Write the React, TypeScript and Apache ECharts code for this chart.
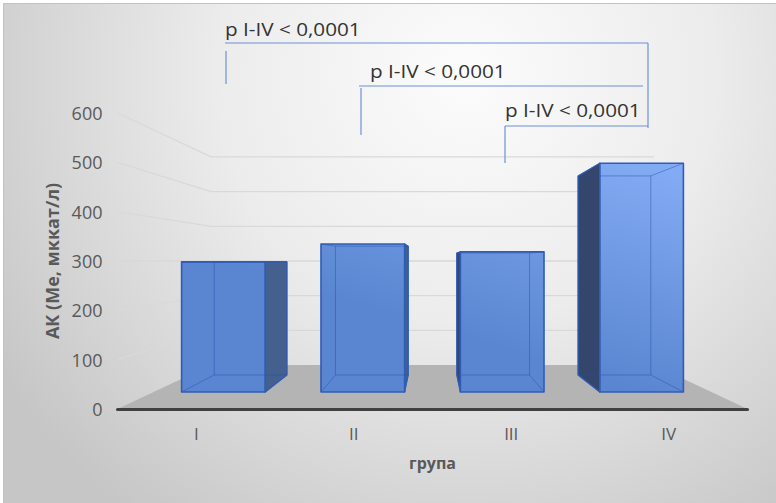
import React, { useEffect, useRef } from 'react';
import * as echarts from 'echarts';

// ---- data ----
const categories = ['I', 'II', 'III', 'IV'];
const values = [298, 339, 321, 524];
const yTicks = [0, 100, 200, 300, 400, 500, 600];
const pLabels = ['p I-IV < 0,0001', 'p I-IV < 0,0001', 'p I-IV < 0,0001'];
const yName = 'АК (Ме, мккат/л)';
const xName = 'група';

// ---- perspective / style params ----
const HORIZON = 300; // value at eye level
const K_FRONT = 0.885; // bar front face depth factor
const K_BACK = 0.77; // bar back face depth factor
const K_WALL = 0.703; // back wall depth factor
const BAR_RATIO = 0.6;
const OUTLINE = '#2f5cb6';
const INNER = 'rgba(38,78,170,0.45)';
const SIDE_L = '#34466b';
const SIDE_R = '#44608f';
const TOP_FILL = '#7ea3e6';
const FONT = '"Open Sans", "Noto Sans", sans-serif';

function persp(params: any, api: any) {
  const cs = params.coordSys;
  const vpx = cs.x + cs.width / 2;
  const vpy = api.coord([0, HORIZON])[1];
  const P = (x: number, y: number, k: number) => [vpx + (x - vpx) * k, vpy + (y - vpy) * k];
  return { cs, vpx, vpy, P };
}

const renderScene = (params: any, api: any) => {
  const { cs, P } = persp(params, api);
  const v = api.value(1);
  const y = api.coord([0, v])[1];
  const left = cs.x;
  const right = cs.x + cs.width;
  if (v === 0) {
    return {
      type: 'polygon',
      shape: { points: [[left, y], P(left, y, K_WALL), P(right, y, K_WALL), [right, y]] },
      style: { fill: '#b4b4b4' },
    };
  }
  return {
    type: 'polyline',
    shape: { points: [[left, y], P(left, y, K_WALL), P(right, y, K_WALL)] },
    style: { stroke: '#d9d9d9', lineWidth: 1.3, fill: 'none' },
  };
};

const renderBar = (params: any, api: any) => {
  const { cs, vpx, vpy, P } = persp(params, api);
  const i = api.value(0);
  const v = api.value(1);
  const t = api.coord([i, v]);
  const b = api.coord([i, 0]);
  const bw = api.size([1, 0])[0] * BAR_RATIO;
  const xl = t[0] - bw / 2;
  const xr = t[0] + bw / 2;
  const FTL = P(xl, t[1], K_FRONT), FTR = P(xr, t[1], K_FRONT);
  const FBR = P(xr, b[1], K_FRONT), FBL = P(xl, b[1], K_FRONT);
  const BTL = P(xl, t[1], K_BACK), BTR = P(xr, t[1], K_BACK);
  const BBR = P(xr, b[1], K_BACK), BBL = P(xl, b[1], K_BACK);
  const leftVis = FTL[0] > vpx;
  const rightVis = FTR[0] < vpx;
  const topVis = FTL[1] > vpy + 0.5;
  const children: any[] = [];
  const side = leftVis ? [FTL, BTL, BBL, FBL] : rightVis ? [FTR, BTR, BBR, FBR] : null;
  if (side) {
    children.push({ type: 'polygon', shape: { points: side }, style: { fill: leftVis ? SIDE_L : SIDE_R } });
  }
  if (topVis) {
    children.push({ type: 'polygon', shape: { points: [FTL, FTR, BTR, BTL] }, style: { fill: TOP_FILL } });
  }
  const gx0 = cs.x + cs.width * 0.83;
  const gy0 = FBL[1];
  const gx1 = gx0 + cs.width * 0.103;
  const gy1 = gy0 - cs.height * 0.706;
  const grad = new echarts.graphic.LinearGradient(gx0, gy0, gx1, gy1, [
    { offset: 0, color: '#5a85d0' },
    { offset: 1, color: '#82abf3' },
  ], true);
  children.push({ type: 'polygon', shape: { points: [FTL, FTR, FBR, FBL] }, style: { fill: grad } });
  const inner = [
    [BTL, BTR], [BTR, BBR], [BBR, BBL], [BBL, BTL],
    [FTL, BTL], [FTR, BTR], [FBR, BBR], [FBL, BBL],
  ];
  inner.forEach(([p, q]) =>
    children.push({
      type: 'line',
      shape: { x1: p[0], y1: p[1], x2: q[0], y2: q[1] },
      style: { stroke: INNER, lineWidth: 1 },
    })
  );
  if (side) {
    children.push({ type: 'polygon', shape: { points: side }, style: { fill: 'none', stroke: OUTLINE, lineWidth: 1.2, lineJoin: 'round' } });
  }
  if (topVis) {
    children.push({ type: 'polygon', shape: { points: [FTL, FTR, BTR, BTL] }, style: { fill: 'none', stroke: OUTLINE, lineWidth: 1.2 } });
  }
  children.push({ type: 'polygon', shape: { points: [FTL, FTR, FBR, FBL] }, style: { fill: 'none', stroke: OUTLINE, lineWidth: 1.6, lineJoin: 'round' } });
  return { type: 'group', children };
};

export default function App() {
  const ref = useRef<HTMLDivElement>(null);
  useEffect(() => {
    const chart = echarts.init(ref.current!, null, { renderer: 'svg' });

    const bracketLayout = [
      { tx: 225, ty: 29, hy: 43, hx1: 225, hx2: 648, vx: 226, vy1: 51, vy2: 84 },
      { tx: 370, ty: 71, hy: 86, hx1: 359, hx2: 643, vx: 361, vy1: 88, vy2: 135 },
      { tx: 505, ty: 110, hy: 126, hx1: 505, hx2: 648, vx: 505, vy1: 126, vy2: 163 },
    ];
    const lineStyle = { stroke: '#6d90d8', lineWidth: 1.2 };
    const annotations: any[] = [];
    bracketLayout.forEach((l, k) => {
      annotations.push({
        type: 'text', x: l.tx, y: l.ty, scaleX: 1.09, z: 100,
        style: { text: pLabels[k], fill: '#333333', fontSize: 19, fontFamily: FONT, align: 'left', verticalAlign: 'middle' },
      });
      annotations.push({ type: 'line', z: 100, shape: { x1: l.hx1, y1: l.hy, x2: l.hx2, y2: l.hy }, style: lineStyle });
      annotations.push({ type: 'line', z: 100, shape: { x1: l.vx, y1: l.vy1, x2: l.vx, y2: l.vy2 }, style: lineStyle });
    });
    annotations.push({ type: 'line', z: 100, shape: { x1: 648, y1: 43, x2: 648, y2: 128 }, style: lineStyle });

    const option: any = {
      animation: false,
      backgroundColor: '#ffffff',
      graphic: [
        {
          type: 'rect', z: -100, silent: true,
          shape: { x: 3.5, y: 3.5, width: 780, height: 510 },
          style: {
            fill: new echarts.graphic.RadialGradient(466, 75, 553, [
              { offset: 0, color: '#fcfcfc' },
              { offset: 0.45, color: '#ececec' },
              { offset: 1, color: '#c6c6c6' },
            ], true),
            stroke: '#c2c2c2', lineWidth: 1,
          },
        },
        ...annotations,
      ],
      grid: { left: 117.5, right: 28.5, top: 113, bottom: 94 },
      xAxis: {
        type: 'category',
        data: categories,
        z: 10,
        axisLine: { lineStyle: { color: '#404040', width: 3 } },
        axisTick: { show: false },
        axisLabel: { color: '#595959', fontSize: 17, fontFamily: FONT, margin: 16 },
        name: xName,
        nameLocation: 'middle',
        nameGap: 46,
        nameTextStyle: { color: '#595959', fontSize: 16, fontWeight: 'bold', fontFamily: FONT },
        splitLine: { show: false },
      },
      yAxis: {
        type: 'value',
        min: 0,
        max: 600,
        interval: 100,
        axisLine: { show: false },
        axisTick: { show: false },
        splitLine: { show: false },
        axisLabel: { color: '#595959', fontSize: 18, fontFamily: FONT, margin: 15 },
        name: yName,
        nameLocation: 'middle',
        nameRotate: 90,
        nameGap: 32,
        nameTextStyle: { color: '#595959', fontSize: 18, fontWeight: 'bold', fontFamily: FONT },
      },
      series: [
        {
          type: 'custom',
          z: 1,
          silent: true,
          renderItem: renderScene,
          data: yTicks.map((v) => [0, v]),
        },
        {
          type: 'custom',
          z: 3,
          renderItem: renderBar,
          data: values.map((v, i) => [i, v]),
        },
      ],
    };
    chart.setOption(option);
    return () => chart.dispose();
  }, []);
  return <div ref={ref} style={{ position: 'fixed', left: 0, top: 0, width: 776, height: 503 }} />;
}
